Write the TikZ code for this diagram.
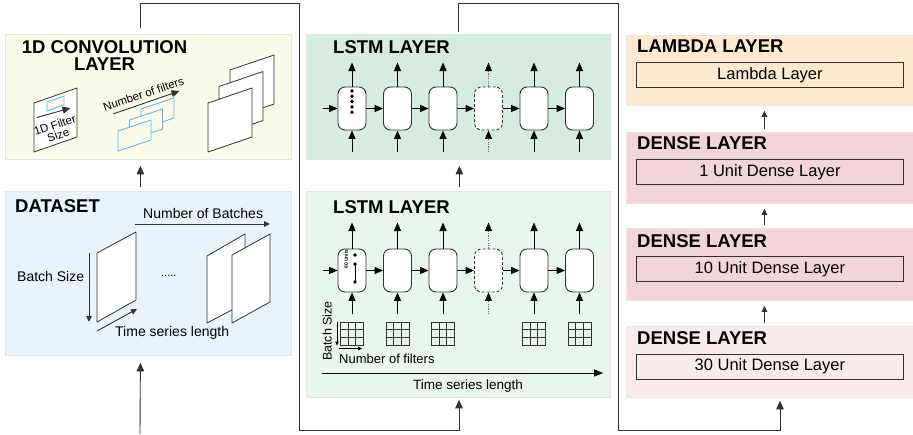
\documentclass[tikz,border=0pt]{standalone}
\usepackage{fontspec}
\setmainfont{Liberation Sans}
\usetikzlibrary{arrows.meta}

\definecolor{convbg}{RGB}{251,251,234}
\definecolor{databg}{RGB}{232,243,251}
\definecolor{lstmA}{RGB}{214,236,224}
\definecolor{lstmB}{RGB}{233,246,238}
\definecolor{lambdabg}{RGB}{253,233,207}
\definecolor{densebg}{RGB}{243,213,217}
\definecolor{denselt}{RGB}{249,235,236}
\definecolor{filterblue}{RGB}{88,184,234}
\definecolor{ink}{RGB}{50,50,50}

\tikzset{
  panel/.style={draw=black!10, line width=0.8pt, anchor=north west, inner sep=0pt},
  titletext/.style={font=\fontsize{18.5}{20}\selectfont\bfseries, inner sep=0pt},
  boxtext/.style={draw=ink, line width=0.8pt, anchor=north west, inner sep=0pt,
    minimum width=267pt, minimum height=25pt, font=\fontsize{16.5}{18}\selectfont},
  lbl/.style={font=\fontsize{14}{16}\selectfont, inner sep=0pt},
  smalllbl/.style={font=\fontsize{11.5}{10.5}\selectfont, inner sep=0pt},
  cell/.style={draw=ink, fill=white, rounded corners=7pt, minimum width=28pt,
    minimum height=43pt, inner sep=0pt, line width=0.9pt},
  ghostcell/.style={cell, dash pattern=on 3pt off 2pt},
  lstmarrow/.style={-{Triangle[length=8.5pt,width=7pt]}, line width=1pt, black},
  ghostarrow/.style={-{Triangle[length=8.5pt,width=7pt,color=black]}, line width=0.6pt,
    draw=black!55, dash pattern=on 1.2pt off 1.2pt},
  flow/.style={draw=ink, line width=0.9pt},
  flowtip/.style={flow, -{Triangle[length=8.5pt,width=7.5pt]}},
  smalltip/.style={flow, -{Triangle[length=6pt,width=5.5pt]}},
  sheet/.style={draw=ink, fill=white, line width=0.8pt, line join=round},
  filter/.style={draw=filterblue, fill=convbg, line width=0.9pt},
  gridln/.style={draw=ink, line width=0.7pt},
  dot/.style={fill=black}
}

\begin{document}
\begin{tikzpicture}[x=1pt,y=-1pt]
\useasboundingbox (0,0) rectangle (913,434);
\fill[white] (0,0) rectangle (913,434);

% ---------- panels ----------
\node[panel, fill=convbg,   minimum width=286pt, minimum height=125pt] (conv)  at (5,34)   {};
\node[panel, fill=databg,   minimum width=286pt, minimum height=164pt] (data)  at (5,191)  {};
\node[panel, fill=lstmA,    minimum width=304pt, minimum height=125pt] (lstmT) at (306,34) {};
\node[panel, fill=lstmB,    minimum width=304pt, minimum height=206pt] (lstmB) at (306,191){};
\node[panel, fill=lambdabg, minimum width=288pt, minimum height=70pt]  (lam)   at (626,35) {};
\node[panel, fill=densebg,  minimum width=288pt, minimum height=71pt]  (dA)    at (626,132){};
\node[panel, fill=densebg,  minimum width=288pt, minimum height=72pt]  (dB)    at (626,228){};
\node[panel, fill=denselt,  minimum width=288pt, minimum height=71pt]  (dC)    at (626,326){};

% ---------- titles ----------
\node[titletext, anchor=base] (convT1) at (104.5,53) {1D CONVOLUTION};
\node[titletext, anchor=base] (convT2) at (104.5,70.5) {LAYER};
\node[titletext, anchor=base west] (dataT) at (15,212.5) {DATASET};
\node[titletext, anchor=base west] (lstmTT) at (333,53) {LSTM LAYER};
\node[titletext, anchor=base west] (lstmBT) at (333,213) {LSTM LAYER};
\node[titletext, anchor=base west] (lamT) at (637,52) {LAMBDA LAYER};
\node[titletext, anchor=base west] (dAT) at (637,149) {DENSE LAYER};
\node[titletext, anchor=base west] (dBT) at (637,247) {DENSE LAYER};
\node[titletext, anchor=base west] (dCT) at (637,344) {DENSE LAYER};

% ---------- dense / lambda boxes ----------
\node[boxtext] (lamBox) at (636,62)  {Lambda Layer};
\node[boxtext] (dABox)  at (636,159) {1 Unit Dense Layer};
\node[boxtext] (dBBox)  at (636,256) {10 Unit Dense Layer};
\node[boxtext] (dCBox)  at (636,353.5) {30 Unit Dense Layer};

% ---------- convolution panel ----------
% input sheet with a 1D filter
\draw[sheet] (34,103) -- (77,88) -- (77,137) -- (34,152) -- cycle;
\draw[filter] (47,102) -- (64,96) -- (64,105) -- (47,111) -- cycle;
\coordinate (fsA) at (37,117.5);
\coordinate (fsB) at (70.5,108);
\draw[flow, -{Triangle[length=8pt,width=7pt]}] (fsA) -- (fsB);
\node[smalllbl, align=center, rotate=19] (fsLbl) at (56.5,130) {1D Filter\\Size};

% stack of filters
\foreach \k in {2,1,0} {
  \draw[filter] (118+11.5*\k,131-11*\k) -- (151+11.5*\k,120-11*\k)
     -- (151+11.5*\k,140-11*\k) -- (118+11.5*\k,151-11*\k) -- cycle;
}
\coordinate (nfA) at (113,114);
\coordinate (nfB) at (179.5,91);
\draw[flow, -{Triangle[length=8pt,width=7pt]}] (nfA) -- (nfB);
\node[smalllbl, rotate=19] (nfLbl) at (143.5,94) {Number of filters};

% output feature maps
\foreach \k in {2,1,0} {
  \draw[sheet] (208+11*\k,103-16.5*\k) -- (252+11*\k,88-16.5*\k)
     -- (252+11*\k,137-16.5*\k) -- (208+11*\k,152-16.5*\k) -- cycle;
}

% ---------- dataset panel ----------
\coordinate (nbA) at (135,224);
\coordinate (nbB) at (270,224);
\draw[smalltip] (nbA) -- (nbB);
\node[lbl, anchor=base west] (nbLbl) at (143,218.5) {Number of Batches};

\draw[sheet] (97,253) -- (136,232) -- (136,300) -- (97,322) -- cycle;
\coordinate (bsA) at (89,253);
\coordinate (bsB) at (89,322);
\draw[smalltip] (bsA) -- (bsB);
\node[lbl, anchor=base west] (bsLbl) at (17,281.5) {Batch Size};

\coordinate (tsA) at (97,331);
\coordinate (tsB) at (137,309);
\draw[smalltip] (tsA) -- (tsB);
\node[lbl, anchor=base west] (tsLbl) at (115,336.5) {Time series length};

\node[font=\fontsize{11}{12}\selectfont, inner sep=0pt, anchor=base west] (gapDots) at (161,276) {.....};

\draw[sheet] (207,256) -- (245,234) -- (245,303) -- (207,323) -- cycle;
\draw[sheet] (232,255) -- (270,234) -- (270,302) -- (232,323) -- cycle;

% ---------- LSTM layer (upper) ----------
\foreach \i/\x in {1/352,2/397.5,3/443,5/534,6/579.5} {
  \node[cell] (ta\i) at (\x,108.5) {};
  \draw[lstmarrow] (ta\i.north) -- ++(0,-24);
  \draw[lstmarrow] (ta\i.south) ++(0,22) -- (ta\i.south);
}
\node[ghostcell] (ta4) at (488.5,108.5) {};
\draw[ghostarrow] (ta4.north) -- ++(0,-24);
\draw[ghostarrow] (ta4.south) ++(0,22) -- (ta4.south);
\draw[lstmarrow] (ta1.west) ++(-15,0) -- (ta1.west);
\foreach \a/\b in {1/2,2/3,3/4,4/5,5/6} {
  \draw[lstmarrow] (ta\a.east) -- (ta\b.west);
}
\foreach \k in {0,...,4} {
  \fill[dot] (352,91+5.3*\k) circle (1.9);
}

% ---------- LSTM layer (lower) ----------
\foreach \i/\x in {1/352,2/397.5,3/443,5/534,6/579.5} {
  \node[cell] (tb\i) at (\x,270.5) {};
  \draw[lstmarrow] (tb\i.north) -- ++(0,-26);
  \draw[lstmarrow] (tb\i.south) ++(0,22) -- (tb\i.south);
  % input matrix
  \draw[gridln] (\x-11.5,322) rectangle (\x+11.5,345);
  \foreach \k in {1,2} {
    \draw[gridln] (\x-11.5+\k*7.667,322) -- (\x-11.5+\k*7.667,345);
    \draw[gridln] (\x-11.5,322+\k*7.667) -- (\x+11.5,322+\k*7.667);
  }
}
\node[ghostcell] (tb4) at (488.5,270.5) {};
\draw[ghostarrow] (tb4.north) -- ++(0,-26);
\draw[ghostarrow] (tb4.south) ++(0,22) -- (tb4.south);
\draw[lstmarrow] (tb1.west) ++(-15,0) -- (tb1.west);
\foreach \a/\b in {1/2,2/3,3/4,4/5,5/6} {
  \draw[lstmarrow] (tb\a.east) -- (tb\b.west);
}
\node[font=\fontsize{5}{6}\selectfont\bfseries, rotate=90, inner sep=0pt] (units) at (346,259) {60 Units};
\fill[dot] (355,255) circle (1.9);
\fill[dot] (355,264) circle (1.9);
\fill[dot] (355,282) circle (1.9);
\draw[line width=0.6pt] (355,264) -- (355,282);

\coordinate (mbA) at (337,322);
\coordinate (mbB) at (337,345.5);
\draw[black, line width=0.7pt, -{Triangle[length=4pt,width=3.5pt]}] (mbA) -- (mbB);
\coordinate (mfA) at (339,348.5);
\coordinate (mfB) at (362,348.5);
\draw[black, line width=0.7pt, -{Triangle[length=4pt,width=3.5pt]}] (mfA) -- (mfB);
\node[font=\fontsize{12.5}{14}\selectfont, rotate=90, inner sep=0pt, anchor=base west] (bsLbl2) at (331.5,361) {Batch Size};
\node[font=\fontsize{13}{15}\selectfont, inner sep=0pt, anchor=base west] (nfLbl2) at (339,363) {Number of filters};

\coordinate (tlA) at (322,373);
\coordinate (tlB) at (603,373);
\draw[black, line width=0.9pt, -{Triangle[length=9pt,width=7pt]}] (tlA) -- (tlB);
\node[font=\fontsize{13.5}{15}\selectfont, inner sep=0pt, anchor=base] (tlLbl) at (468,389) {Time series length};

% ---------- connectors between layers ----------
\coordinate (src) at (140,434);
\draw[flowtip] (src) -- ([xshift=-8pt,yshift=-7pt]data.south);
\draw[flowtip] ([xshift=-8pt,yshift=4pt]data.north) -- ([xshift=-8pt,yshift=-6pt]conv.south);

\coordinate (ra0) at (140,28);
\coordinate (ra1) at (140,3);
\coordinate (ra2) at (299,3);
\coordinate (ra3) at (299,430);
\coordinate (ra4) at (459,430);
\draw[flowtip] (ra0) -- (ra1) -- (ra2) -- (ra3) -- (ra4) -- ([yshift=-2pt]lstmB.south -| ra4);

\draw[flowtip] ([xshift=1pt,yshift=4pt]lstmB.north) -- ([xshift=1pt,yshift=-6pt]lstmT.south);

\coordinate (rb0) at (458,32);
\coordinate (rb1) at (458,3);
\coordinate (rb2) at (618,3);
\coordinate (rb3) at (618,430);
\coordinate (rb4) at (780,430);
\draw[flowtip] (rb0) -- (rb1) -- (rb2) -- (rb3) -- (rb4) -- ([yshift=-3pt]dC.south -| rb4);

\draw[smalltip] ([xshift=-6pt,yshift=3pt]dC.north) -- ([xshift=-6pt,yshift=-5pt]dB.south);
\draw[smalltip] ([xshift=-6pt,yshift=3pt]dB.north) -- ([xshift=-6pt,yshift=-5pt]dA.south);
\draw[smalltip] ([xshift=-6pt,yshift=3pt]dA.north) -- ([xshift=-6pt,yshift=-5pt]lam.south);

\end{tikzpicture}
\end{document}
